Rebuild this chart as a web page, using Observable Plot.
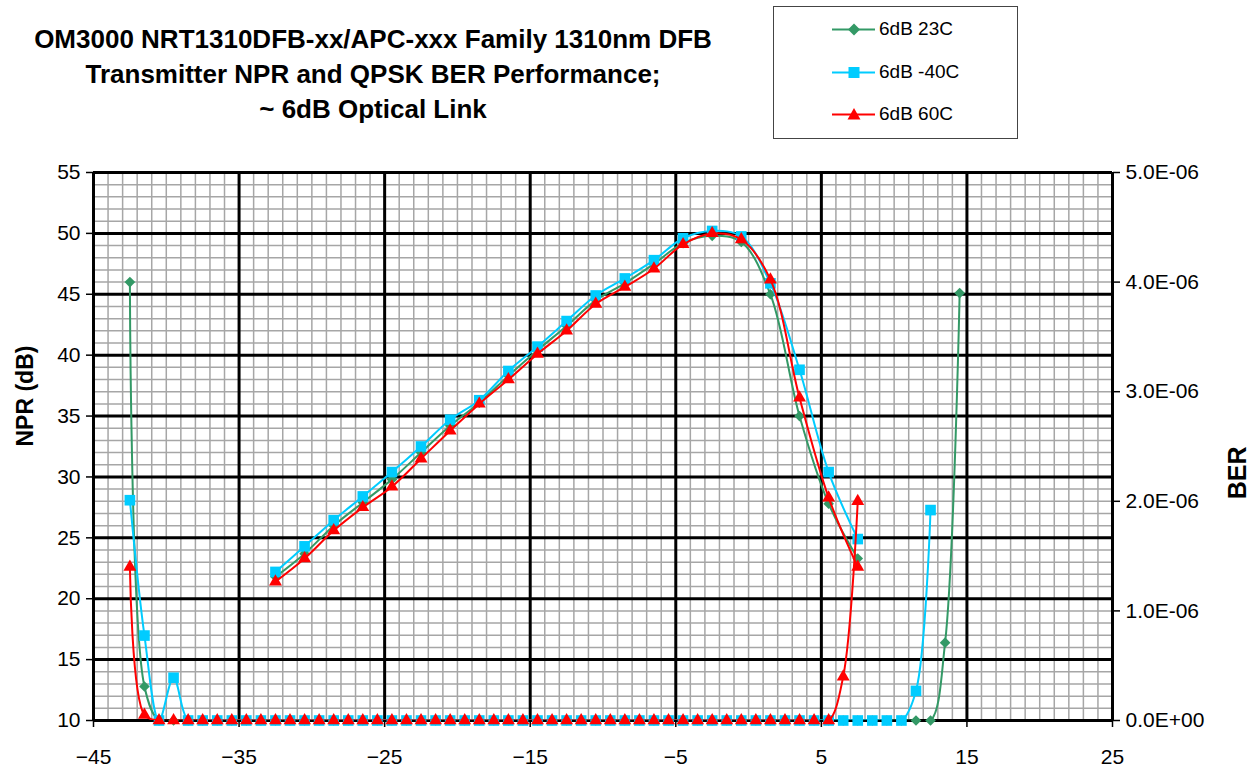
<!DOCTYPE html>
<html><head><meta charset="utf-8">
<script src="https://cdn.jsdelivr.net/npm/d3@7"></script>
<script src="https://cdn.jsdelivr.net/npm/@observablehq/plot@0.6"></script>
<style>
body{margin:0;background:#fff;font-family:"Liberation Sans",Arial,sans-serif;}
#wrap{position:relative;width:1257px;height:774px;overflow:hidden;background:#fff}
#header{position:relative;height:150px}
#title{position:absolute;left:0;top:22px;width:746px;text-align:center;font-weight:bold;font-size:26px;line-height:35px;color:#000}
#legend{position:absolute;left:773px;top:6px;width:245px;height:133px;border:1.5px solid #444;box-sizing:border-box}
.row{position:absolute;left:58px;height:22px;display:flex;align-items:center;font-size:19px;color:#000}
.row svg{margin-right:3px}
#chart svg{display:block}
</style>
</head><body>
<div id="wrap">
  <div id="header">
    <div id="title"></div>
    <div id="legend"></div>
  </div>
  <div id="chart"></div>
</div>
<script>
// ---- data ----
const titleLines = ["OM3000 NRT1310DFB-xx/APC-xxx Family 1310nm DFB", "Transmitter NPR and QPSK BER Performance;", "~ 6dB Optical Link"];
const seriesNames = ["6dB 23C", "6dB -40C", "6dB 60C"];
const seriesColors = ["#339966", "#00CCFF", "#FF0000"];
const seriesSymbols = ["diamond2", "square", "triangle"];

const nprX = [-32.5,-30.5,-28.5,-26.5,-24.5,-22.5,-20.5,-18.5,-16.5,-14.5,-12.5,-10.5,-8.5,-6.5,-4.5,-2.5,-0.5,1.5,3.5,5.5,7.5];
const npr23 = [21.8,23.7,26.0,27.9,29.8,32.0,34.2,36.1,38.3,40.4,42.4,44.5,45.9,47.5,49.2,49.8,49.3,45.0,35.0,27.8,23.3];
const nprM40 = [22.2,24.3,26.45,28.4,30.4,32.5,34.7,36.3,38.7,40.7,42.8,44.9,46.3,47.8,49.6,50.2,49.75,45.9,38.8,30.4,24.9];
const npr60 = [21.4,23.3,25.6,27.5,29.2,31.5,33.8,36.0,38.0,40.1,42.0,44.2,45.6,47.1,49.1,50.0,49.5,46.2,36.5,28.3,22.6];

const berX = [-42.5,-41.5,-40.5,-39.5,-38.5,-37.5,-36.5,-35.5,-34.5,-33.5,
              -32.5,-31.5,-30.5,-29.5,-28.5,-27.5,-26.5,-25.5,-24.5,-23.5,
              -22.5,-21.5,-20.5,-19.5,-18.5,-17.5,-16.5,-15.5,-14.5,-13.5,
              -12.5,-11.5,-10.5,-9.5,-8.5,-7.5,-6.5,-5.5,-4.5,-3.5,
              -2.5,-1.5,-0.5,0.5,1.5,2.5,3.5,4.5,5.5,6.5,
              7.5,8.5,9.5,10.5,11.5,12.5,13.5,14.5];
const ber23 = [4.0e-6,0.31e-6,0,0,0,0,0,0,0,0,
               0,0,0,0,0,0,0,0,0,0,
               0,0,0,0,0,0,0,0,0,0,
               0,0,0,0,0,0,0,0,0,0,
               0,0,0,0,0,0,0,0,0,0,
               0,0,0,0,0,0,0.71e-6,3.9e-6];
const berM40 = [2.01e-6,0.775e-6,0,0.39e-6,0,0,0,0,0,0,
                0,0,0,0,0,0,0,0,0,0,
                0,0,0,0,0,0,0,0,0,0,
                0,0,0,0,0,0,0,0,0,0,
                0,0,0,0,0,0,0,0,0,0,
                0,0,0,0,0.27e-6,1.92e-6];
const ber60 = [1.40e-6,0.05e-6,0,0,0,0,0,0,0,0,
               0,0,0,0,0,0,0,0,0,0,
               0,0,0,0,0,0,0,0,0,0,
               0,0,0,0,0,0,0,0,0,0,
               0,0,0,0,0,0,0,0,0,0.40e-6,
               2.0e-6];

const xTicks = [-45,-35,-25,-15,-5,5,15,25];
const yTicks = [10,15,20,25,30,35,40,45,50,55];
const berTicks = [0,1e-6,2e-6,3e-6,4e-6,5e-6];
const berTickLabels = ["0.0E+00","1.0E-06","2.0E-06","3.0E-06","4.0E-06","5.0E-06"];

// ---- build ----
const nprSets = [npr23, nprM40, npr60];
const berSets = [ber23, berM40, ber60];
const toY = b => 10 + b / 5e-6 * 45;
const berPos = berTicks.map(toY);
const berLabelMap = new Map(berPos.map((p, i) => [p, berTickLabels[i]]));

document.getElementById("title").innerHTML = titleLines.map(t => `<div>${t}</div>`).join("");

const legendTops = [11, 54, 96];
const swatch = (i) => {
  const c = seriesColors[i];
  let m = "";
  if (i === 0) m = `<path d="M22,4.5 L28,10.5 L22,16.5 L16,10.5 Z" fill="${c}"/>`;
  else if (i === 1) m = `<rect x="16.5" y="5" width="11" height="11" fill="${c}"/>`;
  else m = `<path d="M22,4 L28.5,15.5 L15.5,15.5 Z" fill="${c}"/>`;
  return `<svg width="44" height="21"><line x1="0" y1="10.5" x2="43" y2="10.5" stroke="${c}" stroke-width="2"/>${m}</svg>`;
};
document.getElementById("legend").innerHTML = seriesNames.map((n, i) =>
  `<div class="row" style="top:${legendTops[i]}px">${swatch(i)}<span>${n}</span></div>`).join("");

const seriesMarks = [];
[0, 1, 2].forEach(i => {
  const npr = nprX.map((x, j) => ({x, y: nprSets[i][j]}));
  const ber = berSets[i].map((b, j) => ({x: berX[j], ber: b}));
  const c = seriesColors[i];
  const r = i === 0 ? 4.8 : i === 1 ? 6 : 4.8;
  seriesMarks.push(
    Plot.line(npr, {x: "x", y: "y", stroke: c, strokeWidth: 2, curve: "catmull-rom", clip: true}),
    Plot.line(ber, {x: "x", y: d => toY(d.ber), stroke: c, strokeWidth: 2, curve: "catmull-rom", clip: true}),
    Plot.dot(npr, {x: "x", y: "y", fill: c, stroke: "none", symbol: seriesSymbols[i], r}),
    Plot.dot(ber, {x: "x", y: d => toY(d.ber), fill: c, stroke: "none", symbol: seriesSymbols[i], r})
  );
});

const chart = Plot.plot({
  width: 1257, height: 624,
  marginLeft: 93, marginRight: 145, marginTop: 22, marginBottom: 54,
  x: {domain: [-45, 25]},
  y: {domain: [10, 55]},
  style: {fontFamily: "'Liberation Sans', Arial, sans-serif", fontSize: "21px", color: "#000", background: "#fff", overflow: "visible"},
  marks: [
    Plot.gridX(d3.range(-45, 26, 1), {stroke: "#a6a6a6", strokeOpacity: 1, strokeWidth: 1.5}),
    Plot.gridY(d3.range(10, 56, 1), {stroke: "#a6a6a6", strokeOpacity: 1, strokeWidth: 1.5}),
    Plot.gridX(xTicks, {stroke: "#000", strokeOpacity: 1, strokeWidth: 3}),
    Plot.gridY(yTicks, {stroke: "#000", strokeOpacity: 1, strokeWidth: 3}),
    Plot.axisX(xTicks, {tickSize: 7, tickPadding: 22, strokeWidth: 1.5, label: null, fontSize: 21}),
    Plot.axisY(yTicks, {anchor: "left", tickSize: 7, tickPadding: 6, strokeWidth: 1.5, label: null, fontSize: 21}),
    Plot.axisY(berPos, {anchor: "right", tickSize: 7, tickPadding: 6, strokeWidth: 1.5, label: null, fontSize: 21,
      tickFormat: v => berLabelMap.get(v)}),
    Plot.text(["NPR (dB)"], {frameAnchor: "left", dx: -68, rotate: -90, fontSize: 23, fontWeight: "bold", text: d => d}),
    Plot.text(["BER"], {frameAnchor: "right", dx: 125, rotate: -90, fontSize: 25, fontWeight: "bold", text: d => d}),
    ...seriesMarks
  ]
});
document.getElementById("chart").appendChild(chart);
</script>
</body></html>
